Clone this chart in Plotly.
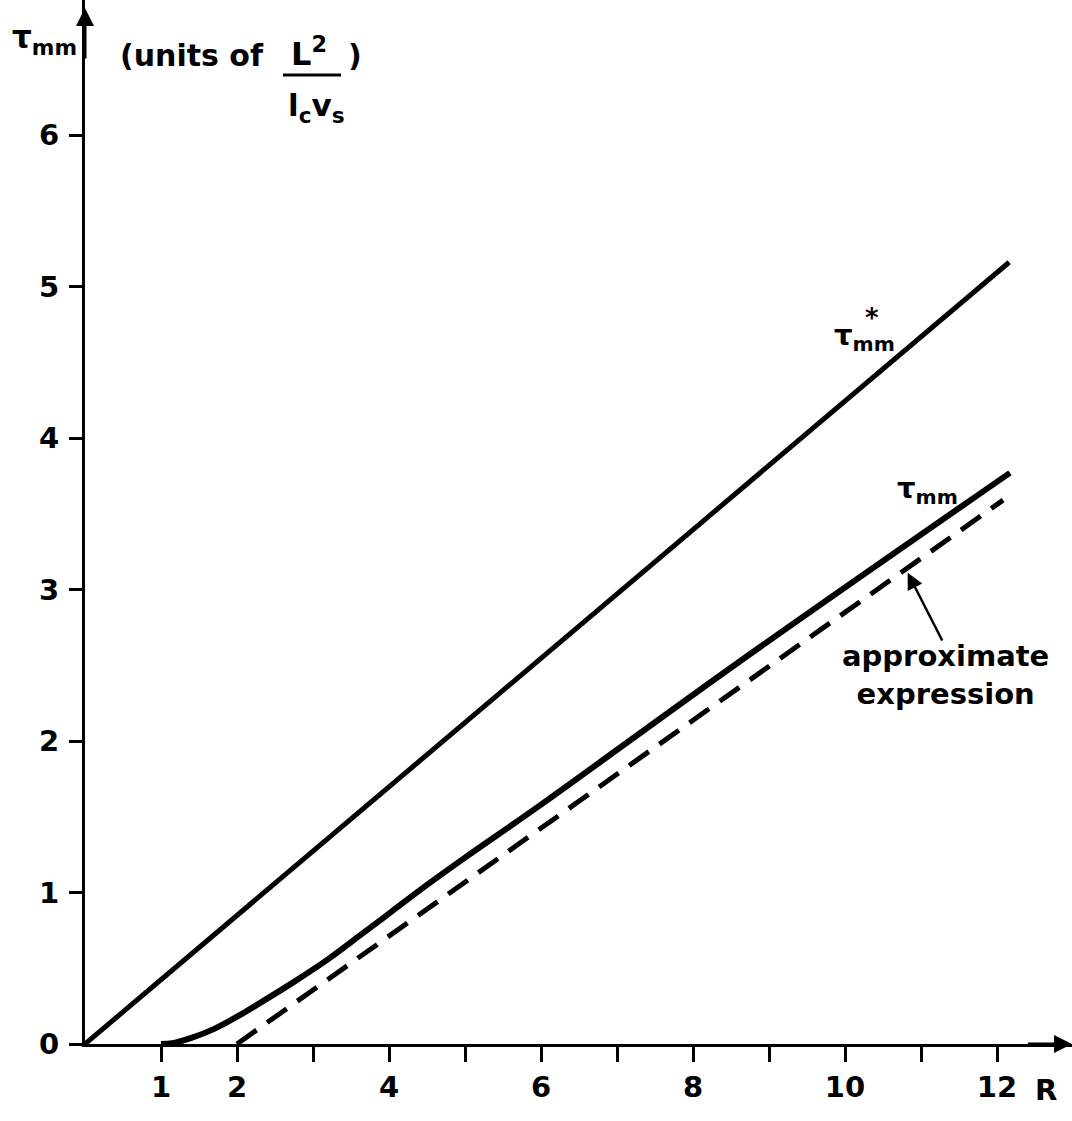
import numpy as np
import plotly.graph_objects as go

# ---- data ----
R_star = [0.0, 12.16]
tau_star = [0.0, 5.16]

R_mm = [1.0, 1.15, 1.4, 1.7, 2.0, 2.3, 2.75, 3.2, 3.6, 4.05, 4.5, 5.0, 6.0, 8.6, 12.17]
tau_mm = [0.0, 0.005, 0.04, 0.10, 0.18, 0.27, 0.41, 0.56, 0.71, 0.88, 1.05, 1.23, 1.58, 2.52, 3.77]

R_approx = [2.0, 12.08]
tau_approx = [0.0, 3.59]

x_tickvals = [1, 2, 4, 6, 8, 10, 12]
x_ticktext = ["1", "2", "4", "6", "8", "10", "12"]
x_minor = [3, 5, 7, 9, 11]
y_tickvals = [0, 1, 2, 3, 4, 5, 6]
y_ticktext = ["0", "1", "2", "3", "4", "5", "6"]

# ---- layout geometry ----
W, H = 1072, 1121
ML, MB = 85, 77
PX_PER_X = 76.0
PX_PER_Y = 151.5
XMAX = (W - ML) / PX_PER_X
YMAX = (H - MB) / PX_PER_Y


def dx(xp):
    return (xp - ML) / PX_PER_X


def dy(yp):
    return (H - MB - yp) / PX_PER_Y


def pxp(xp):
    return (xp - ML) / (W - ML)


def pyp(yp):
    return (H - MB - yp) / (H - MB)


FONT = "DejaVu Sans"
fig = go.Figure()

fig.add_trace(go.Scatter(x=R_star, y=tau_star, mode="lines",
                         line=dict(color="black", width=5), showlegend=False))
fig.add_trace(go.Scatter(x=R_mm, y=tau_mm, mode="lines", line_shape="spline",
                         line=dict(color="black", width=6, smoothing=1.0), showlegend=False))
fig.add_trace(go.Scatter(x=R_approx, y=tau_approx, mode="lines",
                         line=dict(color="black", width=5, dash="24px,13px"),
                         showlegend=False))


def label(x, y, text, size, **kw):
    d = dict(x=pxp(x), y=pyp(y), xref="paper", yref="paper", text=text, showarrow=False,
             xanchor="center", yanchor="middle",
             font=dict(family=FONT, size=size, color="black", weight="bold"))
    d.update(kw)
    return d


ann = []
# axis arrows
ann.append(dict(x=0, y=dy(8), ax=0, ay=dy(60), xref="x", yref="y", axref="x", ayref="y",
                showarrow=True, arrowhead=2, arrowsize=1.2, arrowwidth=3, arrowcolor="black", text=""))
ann.append(dict(x=XMAX, y=0, ax=XMAX - 0.6, ay=0, xref="x", yref="y", axref="x", ayref="y",
                showarrow=True, arrowhead=2, arrowsize=1.2, arrowwidth=3, arrowcolor="black", text=""))

# y-axis title
ann.append(label(44, 40, "τ<sub>mm</sub>", 31))
ann.append(label(192, 55, "(units of", 30))
ann.append(label(309, 52, "L<sup>2</sup>", 32))
ann.append(label(316, 108, "l<sub>c</sub>v<sub>s</sub>", 31))
ann.append(label(355, 55, ")", 30))
ann.append(label(1046, 1090, "R", 29))

# curve labels
ann.append(label(864, 337, "τ<sub>mm</sub>", 29))
ann.append(label(872, 318, "*", 26))
ann.append(label(927, 490, "τ<sub>mm</sub>", 29))
ann.append(label(945, 675, "approximate<br>expression", 29, align="center"))
# pointer to the dashed line
R_tip = 10.8
ann.append(dict(x=R_tip, y=float(np.interp(R_tip, R_approx, tau_approx)), ax=dx(943), ay=dy(642),
                xref="x", yref="y", axref="x", ayref="y", text="", showarrow=True,
                arrowhead=2, arrowsize=1.3, arrowwidth=2.5, arrowcolor="black", standoff=4))

shapes = [dict(type="line", xref="x", yref="y", x0=dx(283), x1=dx(341), y0=dy(75), y1=dy(75),
               line=dict(color="black", width=3))]

tickfont = dict(family=FONT, size=29, color="black", weight="bold")
fig.update_layout(
    width=W, height=H,
    margin=dict(l=ML, r=0, t=0, b=MB),
    paper_bgcolor="white", plot_bgcolor="white",
    annotations=ann, shapes=shapes,
    xaxis=dict(range=[0, XMAX], showgrid=False, zeroline=False, showline=True, linecolor="black",
               linewidth=3, ticks="outside", ticklen=15, tickwidth=3, tickcolor="black",
               tickvals=x_tickvals, ticktext=x_ticktext, tickfont=tickfont,
               minor=dict(tickvals=x_minor, ticks="outside", ticklen=15, tickwidth=3,
                          tickcolor="black", showgrid=False)),
    yaxis=dict(range=[0, YMAX], showgrid=False, zeroline=False, showline=True, linecolor="black",
               linewidth=3, ticks="outside", ticklen=13, tickwidth=3, tickcolor="black",
               tickvals=y_tickvals, ticktext=y_ticktext, ticklabelstandoff=4, tickfont=tickfont),
)

fig.write_html("out.html")
